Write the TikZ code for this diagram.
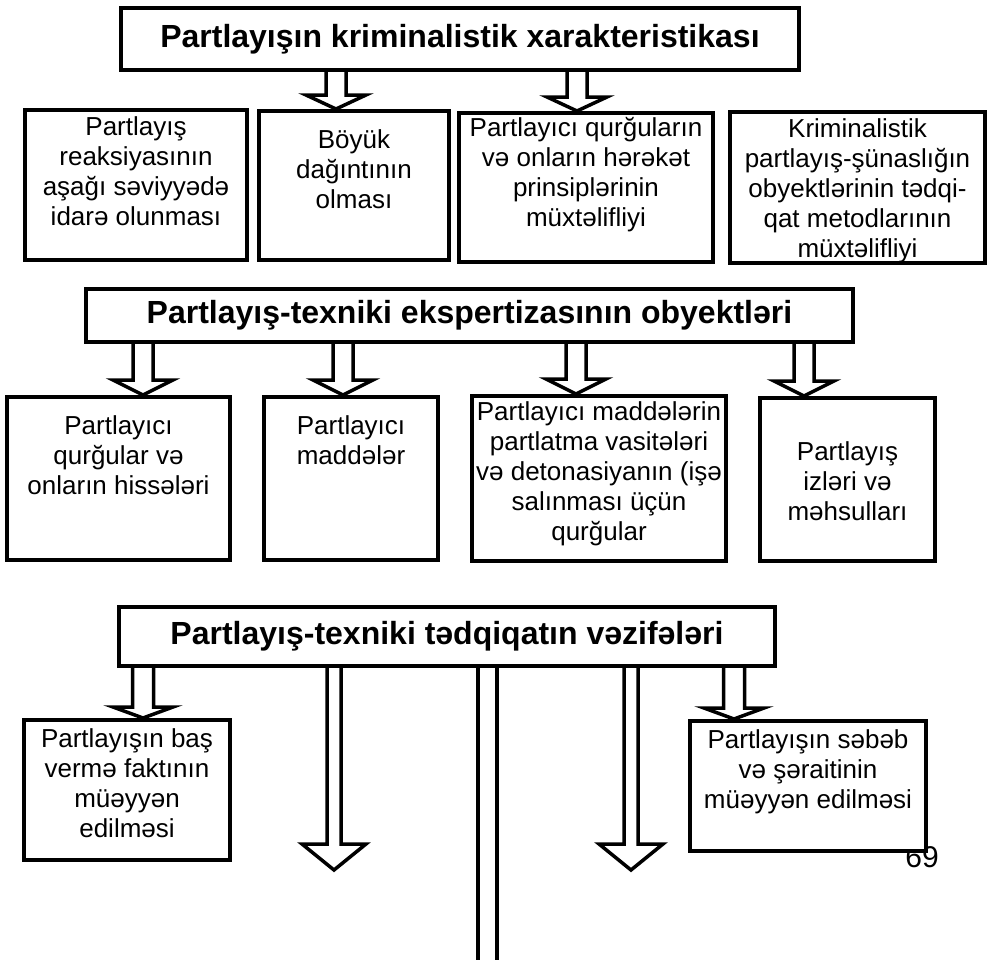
\documentclass[tikz,border=0pt]{standalone}
\usepackage{fontspec}
\setmainfont{Liberation Sans}
\usetikzlibrary{calc}
\tikzset{
  box/.style={draw, line width=4pt, fill=white, inner sep=0pt},
  hdr/.style={box, font=\bfseries\fontsize{32}{36}\selectfont},
  txt/.style={align=center, inner sep=0pt, anchor=north, font=\fontsize{26}{30}\selectfont},
  arr/.style={line width=3.5pt, line join=miter, line cap=butt},
  pagenum/.style={inner sep=0pt, anchor=base, font=\fontsize{30}{34}\selectfont},
}
% #1 style, #2 name, #3 x1, #4 y1, #5 x2, #6 y2, #7 text
\newcommand\mkbox[7]{\node[#1, minimum width=#5pt-#3pt-4pt, minimum height=#6pt-#4pt-4pt] (#2) at ({(#3+#5)/2},{(#4+#6)/2}) {#7};}
% #1 x, #2 from node, #3 tip point, #4 shaft half width, #5 head half width, #6 head length
\newcommand\blkarrow[6]{\draw[arr] let \p1=(#2.south), \p2=(#3) in
  ({#1pt-#4pt},\y1) -- ({#1pt-#4pt},{\y2+#6pt}) -- ({#1pt-#5pt},{\y2+#6pt}) -- (#1pt,\y2)
  -- ({#1pt+#5pt},{\y2+#6pt}) -- ({#1pt+#4pt},{\y2+#6pt}) -- ({#1pt+#4pt},\y1);}
\begin{document}
\begin{tikzpicture}[x=1pt,y=-1pt]
\useasboundingbox (0,0) rectangle (991,959);
\fill[white] (0,0) rectangle (991,959);

% page number (partly hidden by box J)
\node[pagenum] (pg) at (922,867) {69};

% headers
\mkbox{hdr}{h1}{119}{6}{801}{72}{Partlayışın kriminalistik xarakteristikası}
\mkbox{hdr}{h2}{84}{287}{855}{344}{Partlayış-texniki ekspertizasının obyektləri}
\mkbox{hdr}{h3}{117}{605}{777}{668}{Partlayış-texniki tədqiqatın vəzifələri}

% row 1
\mkbox{box}{A}{23}{108}{249}{262}{}
\mkbox{box}{B}{257}{109}{451}{262}{}
\mkbox{box}{C}{457}{111}{715}{264}{}
\mkbox{box}{D}{728}{110}{987}{265}{}
\node[txt] (At) at ($(A.north)+(0,8)$) {Partlayış\\reaksiyasının\\aşağı səviyyədə\\idarə olunması};
\node[txt] (Bt) at ($(B.north)+(0,20)$) {Böyük\\dağıntının\\olması};
\node[txt] (Ct) at ($(C.north)+(0,6)$) {Partlayıcı qurğuların\\və onların hərəkət\\prinsiplərinin\\müxtəlifliyi};
\node[txt] (Dt) at ($(D.north)+(0,8)$) {Kriminalistik\\partlayış-şünaslığın\\obyektlərinin tədqi-\\qat metodlarının\\müxtəlifliyi};

% row 2
\mkbox{box}{E}{5}{395}{232}{562}{}
\mkbox{box}{F}{262}{395}{440}{562}{}
\mkbox{box}{G}{470}{394}{728}{563}{}
\mkbox{box}{H}{758}{396}{937}{563}{}
\node[txt] (Et) at ($(E.north)+(0,20)$) {Partlayıcı\\qurğular və\\onların hissələri};
\node[txt] (Ft) at ($(F.north)+(0,20)$) {Partlayıcı\\maddələr};
\node[txt] (Gt) at ($(G.north)+(0,7)$) {Partlayıcı maddələrin\\partlatma vasitələri\\və detonasiyanın (işə\\salınması üçün\\qurğular};
\node[txt] (Ht) at ($(H.north)+(0,45)$) {Partlayış\\izləri və\\məhsulları};

% row 3
\mkbox{box}{I}{22}{718}{232}{862}{}
\mkbox{box}{J}{688}{719}{928}{853}{}
\node[txt] (It) at ($(I.north)+(0,10)$) {Partlayışın baş\\vermə faktının\\müəyyən\\edilməsi};
\node[txt] (Jt) at ($(J.north)+(0,10)$) {Partlayışın səbəb\\və şəraitinin\\müəyyən edilməsi};

% free ends
\coordinate (mt) at (334,870);
\coordinate (rt) at (631,870);
\coordinate (bot) at (487.5,965);

% arrows from header 1
\blkarrow{336}{h1}{B.north}{10}{30}{14}
\blkarrow{577}{h1}{C.north}{10}{30}{14}
% arrows from header 2
\blkarrow{143}{h2}{E.north}{10}{30}{15}
\blkarrow{343}{h2}{F.north}{10}{30}{15}
\blkarrow{576}{h2}{G.north}{10}{30}{15}
\blkarrow{804}{h2}{H.north}{10}{30}{15}
% arrows from header 3
\blkarrow{143}{h3}{I.north}{10.5}{30}{11}
\blkarrow{334}{h3}{mt}{7}{32}{26}
\blkarrow{631}{h3}{rt}{7}{32}{26}
\blkarrow{734}{h3}{J.north}{10.5}{30}{11}
\draw[arr] let \p1=(h3.south), \p2=(bot) in
  ({\x2-9.5pt},\y1) -- ({\x2-9.5pt},\y2)
  ({\x2+9.5pt},\y1) -- ({\x2+9.5pt},\y2);
\end{tikzpicture}
\end{document}
